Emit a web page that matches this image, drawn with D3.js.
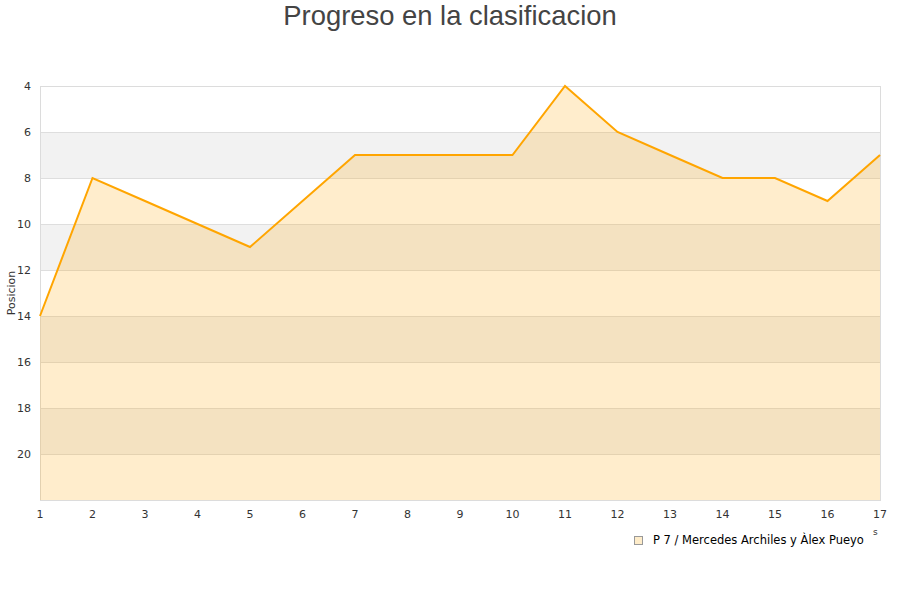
<!DOCTYPE html>
<html><head><meta charset="utf-8">
<script src="https://cdn.jsdelivr.net/npm/d3@7"></script>
<style>body{margin:0;background:#fff}</style>
</head><body><svg id="c" width="900" height="600" font-family="DejaVu Sans, sans-serif"></svg>
<script>
const jornadas = [1,2,3,4,5,6,7,8,9,10,11,12,13,14,15,16,17];
const posiciones = [14,8,9,10,11,9,7,7,7,7,4,6,7,8,8,9,7];
const yTicks = [4,6,8,10,12,14,16,18,20];
const seriesName = "P 7 / Mercedes Archiles y Àlex Pueyo";
const titleText = "Progreso en la clasificacion";

const svg = d3.select("#c");
const m = {l:40, r:880, t:86, b:500};
const x = d3.scaleLinear().domain([1,17]).range([m.l, m.r]);
const y = d3.scaleLinear().domain([4,22]).range([m.t, m.b]);

const bands = [6,10,14,18];
svg.selectAll("rect.band").data(bands).enter().append("rect")
  .attr("x", m.l).attr("width", m.r-m.l)
  .attr("y", d=>y(d)).attr("height", d=>y(d+2)-y(d))
  .attr("fill", "#f2f2f2");
svg.selectAll("line.grid").data(yTicks.concat([22])).enter().append("line")
  .attr("x1", m.l).attr("x2", m.r).attr("y1", d=>y(d)).attr("y2", d=>y(d))
  .attr("stroke", "#dedede").attr("stroke-width",1).attr("shape-rendering","crispEdges");
svg.append("rect").attr("x",m.l).attr("y",m.t).attr("width",m.r-m.l).attr("height",m.b-m.t)
  .attr("fill","none").attr("stroke","#dcdcdc").attr("shape-rendering","crispEdges");

const data = jornadas.map((j,i)=>({j, p:posiciones[i]}));
svg.append("path").datum(data)
  .attr("d", d3.area().x(d=>x(d.j)).y0(y(22)).y1(d=>y(d.p)))
  .attr("fill","rgba(255,165,0,0.2)");
svg.append("path").datum(data)
  .attr("d", d3.line().x(d=>x(d.j)).y(d=>y(d.p)))
  .attr("fill","none").attr("stroke","#ffa500").attr("stroke-width",2);

svg.selectAll("text.yt").data(yTicks).enter().append("text")
  .attr("x", 31).attr("y", d=>y(d)+4).attr("text-anchor","end")
  .attr("font-size",11).attr("fill","#333").text(d=>d);
svg.selectAll("text.xt").data(jornadas).enter().append("text")
  .attr("x", d=>x(d)).attr("y", 518).attr("text-anchor","middle")
  .attr("font-size",11).attr("fill","#333").text(d=>d);

svg.append("text").attr("transform","translate(15,293) rotate(-90)")
  .attr("text-anchor","middle").attr("font-size",11).attr("fill","#333").text("Posicion");

svg.append("text").attr("x",450).attr("y",25).attr("text-anchor","middle")
  .attr("font-size",27.4).attr("fill","#444").attr("font-family","Liberation Sans, Arial, sans-serif").text(titleText);

svg.append("rect").attr("x",634.5).attr("y",536.5).attr("width",8).attr("height",8)
  .attr("fill","#feecc9").attr("stroke","#999");
svg.append("text").attr("x",653).attr("y",544).attr("font-size",11.5).attr("fill","#000").text(seriesName);
svg.append("text").attr("x",873).attr("y",535).attr("font-size",9).attr("fill","#333").text("s");
</script></body></html>
